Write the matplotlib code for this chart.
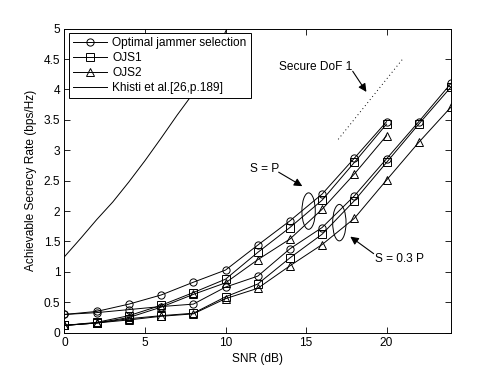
import numpy as np
import matplotlib
matplotlib.use('Agg')
import matplotlib.pyplot as plt
from matplotlib.patches import Ellipse

plt.rcParams['font.family'] = ['Liberation Sans', 'DejaVu Sans']
plt.rcParams['font.size'] = 8.6

# S = P
snr_p = [0, 2, 4, 6, 8, 10, 12, 14, 16, 18, 20]
opt_p = [0.30, 0.35, 0.47, 0.62, 0.83, 1.03, 1.44, 1.84, 2.28, 2.87, 3.47]
ojs1_p = [0.12, 0.17, 0.28, 0.45, 0.66, 0.88, 1.32, 1.73, 2.18, 2.80, 3.43]
ojs2_p = [0.12, 0.16, 0.25, 0.42, 0.63, 0.82, 1.20, 1.54, 2.03, 2.61, 3.24]

# S = 0.3 P
snr_q = [0, 2, 4, 6, 8, 10, 12, 14, 16, 18, 20, 22, 24]
opt_q = [0.30, 0.33, 0.38, 0.43, 0.47, 0.75, 0.93, 1.38, 1.73, 2.25, 2.86, 3.47, 4.10]
ojs1_q = [0.12, 0.16, 0.23, 0.28, 0.32, 0.59, 0.80, 1.23, 1.62, 2.17, 2.80, 3.43, 4.04]
ojs2_q = [0.12, 0.16, 0.21, 0.27, 0.31, 0.56, 0.73, 1.10, 1.45, 1.88, 2.51, 3.13, 3.71]

# Khisti et al. curve
snr_k = [0, 1, 2, 3, 4, 5, 6, 7, 8, 9, 10, 10.5]
khisti = [1.25, 1.55, 1.86, 2.15, 2.48, 2.83, 3.20, 3.58, 3.94, 4.42, 4.95, 5.25]

# secure DoF 1 reference
snr_dof = [17, 21]
dof = [3.18, 4.50]

fig = plt.figure(figsize=(4.98, 3.75), dpi=100)
ax = fig.add_axes([0.1295, 0.1128, 0.776, 0.8107])

mk = dict(color='k', lw=0.7, markersize=5.2, markerfacecolor='none', markeredgewidth=0.7)
ax.plot(snr_p, opt_p, marker='o', label='Optimal jammer selection', **mk)
ax.plot(snr_p, ojs1_p, marker='s', label='OJS1', **mk)
ax.plot(snr_p, ojs2_p, marker='^', label='OJS2', **mk)
ax.plot(snr_k, khisti, color='k', lw=0.7, label='Khisti et al.[26,p.189]')
ax.plot(snr_q, opt_q, marker='o', **mk)
ax.plot(snr_q, ojs1_q, marker='s', **mk)
ax.plot(snr_q, ojs2_q, marker='^', **mk)
ax.plot(snr_dof, dof, color='k', lw=0.7, linestyle=(0, (1, 3)))

ax.add_patch(Ellipse((15.16, 2.0), 0.83, 0.60, fill=False, color='k', lw=0.7))
ax.add_patch(Ellipse((17.07, 1.81), 0.83, 0.60, fill=False, color='k', lw=0.7))

arr = dict(arrowstyle='-|>', color='k', lw=0.8, mutation_scale=12, shrinkA=0, shrinkB=0)
ax.text(13.3, 4.375, 'Secure DoF 1', va='center', ha='left')
ax.annotate('', xy=(18.75, 3.96), xytext=(17.9, 4.3), arrowprops=arr)
ax.text(11.55, 2.70, 'S = P', va='center', ha='left')
ax.annotate('', xy=(14.77, 2.41), xytext=(13.3, 2.64), arrowprops=arr)
ax.text(19.31, 1.21, 'S = 0.3 P', va='center', ha='left')
ax.annotate('', xy=(17.75, 1.58), xytext=(19.2, 1.30), arrowprops=arr)

ax.set_xlim(0, 24)
ax.set_ylim(0, 5)
ax.set_xticks([0, 5, 10, 15, 20])
ax.set_yticks(np.arange(0, 5.01, 0.5))
ax.set_yticklabels(['0', '0.5', '1', '1.5', '2', '2.5', '3', '3.5', '4', '4.5', '5'])
ax.tick_params(direction='in', top=True, right=True, length=4, width=0.6, pad=3)
for s in ax.spines.values():
    s.set_linewidth(0.7)

ax.set_xlabel('SNR (dB)', labelpad=3)
ax.set_ylabel('Achievable Secrecy Rate (bps/Hz)', labelpad=5)

leg = ax.legend(loc='upper left', handlelength=2.9, borderaxespad=0.35,
                fancybox=False, framealpha=1, edgecolor='k',
                borderpad=0.35, labelspacing=0.25, handletextpad=0.4)
leg.get_frame().set_linewidth(0.7)

plt.savefig('out.png', dpi=100)
